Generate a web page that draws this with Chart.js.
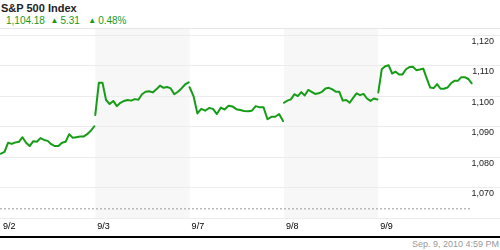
<!DOCTYPE html>
<html><head><meta charset="utf-8">
<script src="https://cdn.jsdelivr.net/npm/chart.js@4/dist/chart.umd.min.js"></script>
<style>
html,body{margin:0;padding:0;background:#fff;}
#wrap{position:relative;width:500px;height:250px;overflow:hidden;font-family:Arial,"Liberation Sans",sans-serif;}
#title{position:absolute;left:1px;top:2px;font-weight:bold;font-size:11px;line-height:13px;color:#222;}
#quote{position:absolute;left:6px;top:15px;font-size:10px;line-height:12px;color:#1a9a1a;white-space:nowrap;}
.tri{font-size:8px;vertical-align:1px;margin-right:2px;}
#hline{position:absolute;left:0;top:28px;width:500px;height:1px;background:#e6e6e6;}
#cv{position:absolute;left:0;top:29px;}
#bline{position:absolute;left:0;top:236px;width:500px;height:2px;background:#000;}
#stamp{position:absolute;right:1px;top:239px;font-size:9px;line-height:11px;color:#999;}
</style></head>
<body><div id="wrap">
<div id="title">S&amp;P 500 Index</div>
<div id="quote">1,104.18 &nbsp;<span class="tri">▲</span>5.31 &nbsp;&nbsp;<span class="tri">▲</span>0.48%</div>
<div id="hline"></div>
<canvas id="cv" width="500" height="207"></canvas>
<div id="bline"></div>
<div id="stamp">Sep. 9, 2010 4:59 PM</div>
</div>
<script>
const dayLabels = ['9/2','9/3','9/7','9/8','9/9'];
const shadedDays = [1,3];
const yTicks = [1060,1070,1080,1090,1100,1110,1120];
const refLevel = 1063;

const day1 = [1081.1,1081.7,1084.7,1084.3,1084.8,1085.0,1086.5,1084.7,1083.6,1085.2,1085.0,1086.2,1085.6,1085.3,1084.2,1083.6,1083.6,1084.7,1085.0,1087.5,1086.3,1086.5,1086.7,1086.7,1087.5,1088.6,1090.1];
const day2 = [1093.8,1104.4,1104.4,1098.7,1097.4,1098.4,1096.7,1097.8,1098.4,1098.7,1098.5,1099.0,1098.8,1100.6,1101.4,1101.6,1101.2,1102.2,1103.4,1102.7,1103.0,1102.5,1100.6,1101.4,1102.5,1103.8,1104.5];
const day3 = [1102.9,1100.0,1094.3,1095.8,1095.2,1096.1,1095.8,1094.1,1096.2,1095.6,1096.8,1096.6,1095.7,1095.4,1095.1,1095.0,1095.2,1096.7,1096.3,1096.3,1092.4,1093.2,1093.2,1094.1,1091.8];
const day4 = [1097.8,1098.5,1098.9,1100.6,1100.0,1101.3,1100.2,1102.0,1101.4,1100.7,1100.9,1101.4,1102.5,1102.7,1102.2,1101.4,1101.4,1098.5,1098.7,1097.8,1099.4,1100.9,1100.3,1100.7,1099.2,1098.4,1099.2,1098.9];
const day5 = [1101.2,1108.8,1109.8,1110.1,1107.4,1108.0,1107.1,1107.1,1108.8,1109.5,1109.6,1108.5,1108.7,1109.0,1105.8,1102.8,1102.6,1103.9,1102.4,1102.4,1102.8,1104.2,1105.0,1105.0,1106.2,1106.2,1105.6,1104.2];
const days = [day1,day2,day3,day4,day5];
const SPAN = 0.99;

const lineData = [];
days.forEach((vals,d)=>{
  vals.forEach((v,i)=>lineData.push({x: d + i*SPAN/(vals.length-1), y: v}));
  lineData.push({x: d + SPAN + 0.002, y: null});
});
const lastX = days.length - 1 + SPAN;

Chart.defaults.font.family = 'Arial, "Liberation Sans", sans-serif';

const bandPlugin = {
  id: 'bands',
  beforeDraw(chart){
    const {ctx, chartArea:a, scales:{x}} = chart;
    ctx.save();
    ctx.fillStyle = '#f7f7f7';
    shadedDays.forEach(d=>{
      const l = x.getPixelForValue(d), r = x.getPixelForValue(d+1);
      ctx.fillRect(l, a.top, r-l, a.bottom-a.top);
    });
    ctx.restore();
  }
};

new Chart(document.getElementById('cv'), {
  type: 'line',
  data: {
    datasets: [
      {data: [{x:-0.01,y:refLevel},{x:lastX,y:refLevel}], borderColor:'#9a9a9a', borderWidth:1, borderDash:[2,2], pointRadius:0},
      {data: lineData, borderColor:'#169c16', borderWidth:2, pointRadius:0, tension:0, spanGaps:false, borderJoinStyle:'round', borderCapStyle:'round'}
    ]
  },
  options: {
    responsive:false, animation:false, devicePixelRatio:1,
    plugins:{legend:{display:false}, tooltip:{enabled:false}},
    layout:{padding:0},
    scales:{
      x:{type:'linear', min:-0.01, max:5.29,
        grid:{display:false, drawTicks:false}, border:{display:false},
        afterBuildTicks: s => { s.ticks = dayLabels.map((l,i)=>({value:i})); },
        ticks:{callback:(v)=>dayLabels[v], align:'start', labelOffset:2, padding:3, font:{size:9}, color:'#000', maxRotation:0, autoSkip:false},
        afterFit: s => { s.height = 18; s.paddingLeft = 0; s.paddingRight = 0; }
      },
      y:{position:'right', min:1060, max:1122,
        grid:{color:'#ececec', drawTicks:false}, border:{display:false},
        afterBuildTicks: s => { s.ticks = yTicks.map(v=>({value:v})); },
        ticks:{mirror:true, padding:-6, labelOffset:6, font:{size:9}, color:'#222',
          callback: v => v===1060 ? '' : v.toLocaleString('en-US')},
        afterFit: s => { s.width = 0; s.paddingTop = 0; s.paddingBottom = 0; }
      }
    }
  },
  plugins:[bandPlugin]
});
</script>
</body></html>
